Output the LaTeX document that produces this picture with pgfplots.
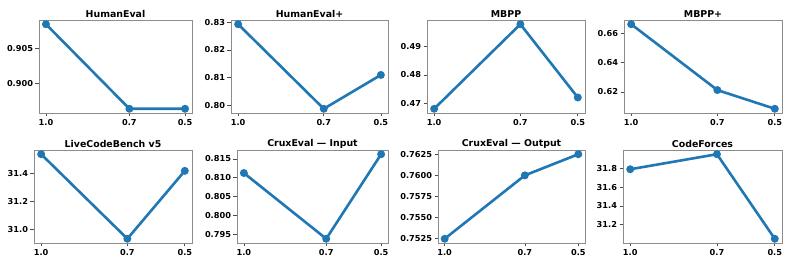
\documentclass[border=0pt]{standalone}
\usepackage{fontspec}
\setmainfont{DejaVu Sans}
\usepackage{pgfplots}
\pgfplotsset{compat=1.18}
\definecolor{mplblue}{HTML}{1F77B4}
\pgfplotsset{
  panel/.style={
    scale only axis, height=93pt,
    x dir=reverse, xmin=0.475, xmax=1.025,
    xtick={1.0,0.7,0.5}, xticklabels={1.0,0.7,0.5},
    tick align=outside, xtick pos=left, ytick pos=left,
    major tick length=3.5pt,
    tick style={black!70, line width=0.7pt},
    axis line style={black!45, line width=0.8pt},
    tick label style={font=\fontsize{8.2}{9}\selectfont\bfseries},
    xticklabel style={yshift=1pt},
    yticklabel style={xshift=1pt},
    title style={font=\fontsize{9.4}{10}\selectfont\bfseries, at={(0.5,1)}, anchor=south, yshift=-7.5pt},
    anchor=south west, clip=false,
  },
  ln/.style={mplblue, line width=2.6pt, mark=*, mark size=2.6pt, mark options={solid, fill=mplblue}},
}
\begin{document}
\begin{tikzpicture}
\path[use as bounding box] (0,0) rectangle (793pt,267pt);
% Row 1
\begin{axis}[panel, at={(39pt,154pt)}, width=153pt, title={HumanEval},
  ymin=0.89569, ymax=0.90911, ytick={0.900,0.905}, yticklabels={0.900,0.905}]
\addplot[ln] coordinates {(1.0,0.9085) (0.7,0.8963) (0.5,0.8963)};
\end{axis}
\begin{axis}[panel, at={(231pt,154pt)}, width=157pt, title={HumanEval+},
  ymin=0.79728, ymax=0.83082, ytick={0.80,0.81,0.82,0.83}, yticklabels={0.80,0.81,0.82,0.83}]
\addplot[ln] coordinates {(1.0,0.8293) (0.7,0.7988) (0.5,0.8110)};
\end{axis}
\begin{axis}[panel, at={(427pt,154pt)}, width=158pt, title={MBPP},
  ymin=0.4665, ymax=0.4995, ytick={0.47,0.48,0.49}, yticklabels={0.47,0.48,0.49}]
\addplot[ln] coordinates {(1.0,0.468) (0.7,0.498) (0.5,0.472)};
\end{axis}
\begin{axis}[panel, at={(624pt,154pt)}, width=158pt, title={MBPP+},
  ymin=0.6056, ymax=0.6693, ytick={0.62,0.64,0.66}, yticklabels={0.62,0.64,0.66}]
\addplot[ln] coordinates {(1.0,0.6664) (0.7,0.6213) (0.5,0.6085)};
\end{axis}
% Row 2
\begin{axis}[panel, at={(34pt,24pt)}, width=158pt, title={LiveCodeBench v5},
  ymin=30.8995, ymax=31.5705, ytick={31.0,31.2,31.4}, yticklabels={31.0,31.2,31.4}]
\addplot[ln] coordinates {(1.0,31.54) (0.7,30.93) (0.5,31.42)};
\end{axis}
\begin{axis}[panel, at={(237pt,24pt)}, width=151pt, title={CruxEval — Input},
  ymin=0.792625, ymax=0.817375, ytick={0.795,0.800,0.805,0.810,0.815}, yticklabels={0.795,0.800,0.805,0.810,0.815}]
\addplot[ln] coordinates {(1.0,0.81125) (0.7,0.79375) (0.5,0.81625)};
\end{axis}
\begin{axis}[panel, at={(438pt,24pt)}, width=147pt, title={CruxEval — Output},
  ymin=0.752, ymax=0.763, ytick={0.7525,0.7550,0.7575,0.7600,0.7625}, yticklabels={0.7525,0.7550,0.7575,0.7600,0.7625}]
\addplot[ln] coordinates {(1.0,0.7525) (0.7,0.7600) (0.5,0.7625)};
\end{axis}
\begin{axis}[panel, at={(623pt,24pt)}, width=159pt, title={CodeForces},
  ymin=31.005, ymax=31.995, ytick={31.2,31.4,31.6,31.8}, yticklabels={31.2,31.4,31.6,31.8}]
\addplot[ln] coordinates {(1.0,31.79) (0.7,31.95) (0.5,31.05)};
\end{axis}
\end{tikzpicture}
\end{document}
